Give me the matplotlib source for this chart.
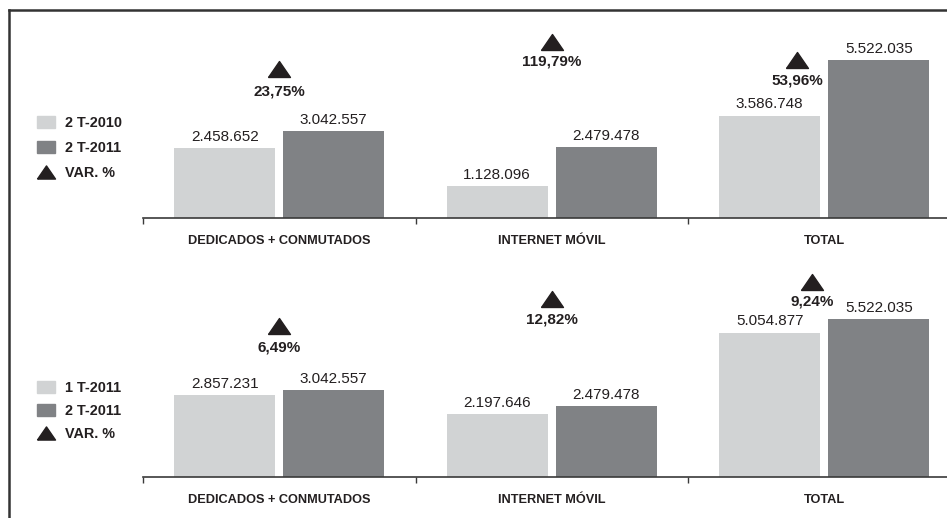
import matplotlib.pyplot as plt
from matplotlib.lines import Line2D
from matplotlib.patches import Patch
import numpy as np

plt.rcParams['font.family'] = ['Liberation Sans', 'DejaVu Sans']

categorias = ['DEDICADOS + CONMUTADOS', 'INTERNET MÓVIL', 'TOTAL']

# panel superior: 2 T-2010 vs 2 T-2011
sup_series = ['2 T-2010', '2 T-2011']
sup_ant = [2458652, 1128096, 3586748]
sup_act = [3042557, 2479478, 5522035]
sup_var = ['23,75%', '119,79%', '53,96%']

# panel inferior: 1 T-2011 vs 2 T-2011
inf_series = ['1 T-2011', '2 T-2011']
inf_ant = [2857231, 2197646, 5054877]
inf_act = [3042557, 2479478, 5522035]
inf_var = ['6,49%', '12,82%', '9,24%']

# donde va cada triangulo (dx, y triangulo, y texto)
sup_pos = [(0.0, 5.215e6, 4.445e6), (0.0, 6.16e6, 5.46e6), (-0.10, 5.53e6, 4.80e6)]
inf_pos = [(0.0, 5.29e6, 4.52e6), (0.0, 6.23e6, 5.50e6), (-0.045, 6.83e6, 6.13e6)]

claro = '#d1d3d4'
oscuro = '#808285'
negro = '#231f20'

tri = [(-11, -8), (11, -8), (0, 8), (-11, -8)]

W, H = 947, 518
fig = plt.figure(figsize=(W / 100, H / 100), dpi=100)


def fmt(v):
    return f'{v:,}'.replace(',', '.')


def panel(base_px, ant, act, var, pos, series, ley_top, ley_esp):
    ax = fig.add_axes([143 / W, (H - base_px) / H, 804 / W, 200 / H])
    x = np.arange(len(categorias))
    b1 = ax.bar(x - 0.2, ant, 0.37, color=claro)
    b2 = ax.bar(x + 0.2, act, 0.37, color=oscuro)
    ax.bar_label(b1, labels=[fmt(v) for v in ant], padding=3, fontsize=11, color=negro)
    ax.bar_label(b2, labels=[fmt(v) for v in act], padding=3, fontsize=11, color=negro)
    for i, (dx, yt, ytxt) in enumerate(pos):
        ax.plot(x[i] + dx, yt, marker=tri, markersize=15.8, color=negro,
                linestyle='none', clip_on=False)
        ax.text(x[i] + dx, ytxt, var[i], ha='center', va='center',
                fontsize=11, fontweight='bold', color=negro)
    ax.set_xlim(-0.5, -0.5 + 804 / 272.5)
    ax.set_ylim(0, 7.0e6)
    for s in ['top', 'left', 'right']:
        ax.spines[s].set_visible(False)
    ax.spines['bottom'].set_color('#3a3a3a')
    ax.spines['bottom'].set_linewidth(1.2)
    ax.set_yticks([])
    ax.set_xticks(x)
    ax.set_xticklabels(categorias, fontsize=9.2, fontweight='bold', color=negro)
    ax.set_xticks([-0.5, 0.5, 1.5], minor=True)
    ax.tick_params(axis='x', which='major', length=0, pad=12)
    ax.tick_params(axis='x', which='minor', length=4, width=1, color='#3a3a3a', direction='out')
    ax.patch.set_visible(False)

    handles = [Patch(color=claro), Patch(color=oscuro),
               Line2D([], [], marker=tri, markersize=13, color=negro, linestyle='none')]
    fig.legend(handles, series + ['VAR. %'], loc='upper left',
               bbox_to_anchor=(37 / W, 1 - ley_top / H), frameon=False,
               borderpad=0, borderaxespad=0, handlelength=1.22, handleheight=0.85,
               handletextpad=0.75, labelspacing=ley_esp,
               prop={'size': 10.4, 'weight': 'bold'}, labelcolor=negro)
    return ax


panel(218, sup_ant, sup_act, sup_var, sup_pos, sup_series, 116, 0.76)
panel(477, inf_ant, inf_act, inf_var, inf_pos, inf_series, 381, 0.62)

# marco
fig.add_artist(Line2D([9 / W, 9 / W], [0, 1 - 10 / H], color='#333333', linewidth=1.8))
fig.add_artist(Line2D([9 / W, 1], [1 - 10 / H, 1 - 10 / H], color='#333333', linewidth=1.8))

plt.savefig('out.png', dpi=100)
